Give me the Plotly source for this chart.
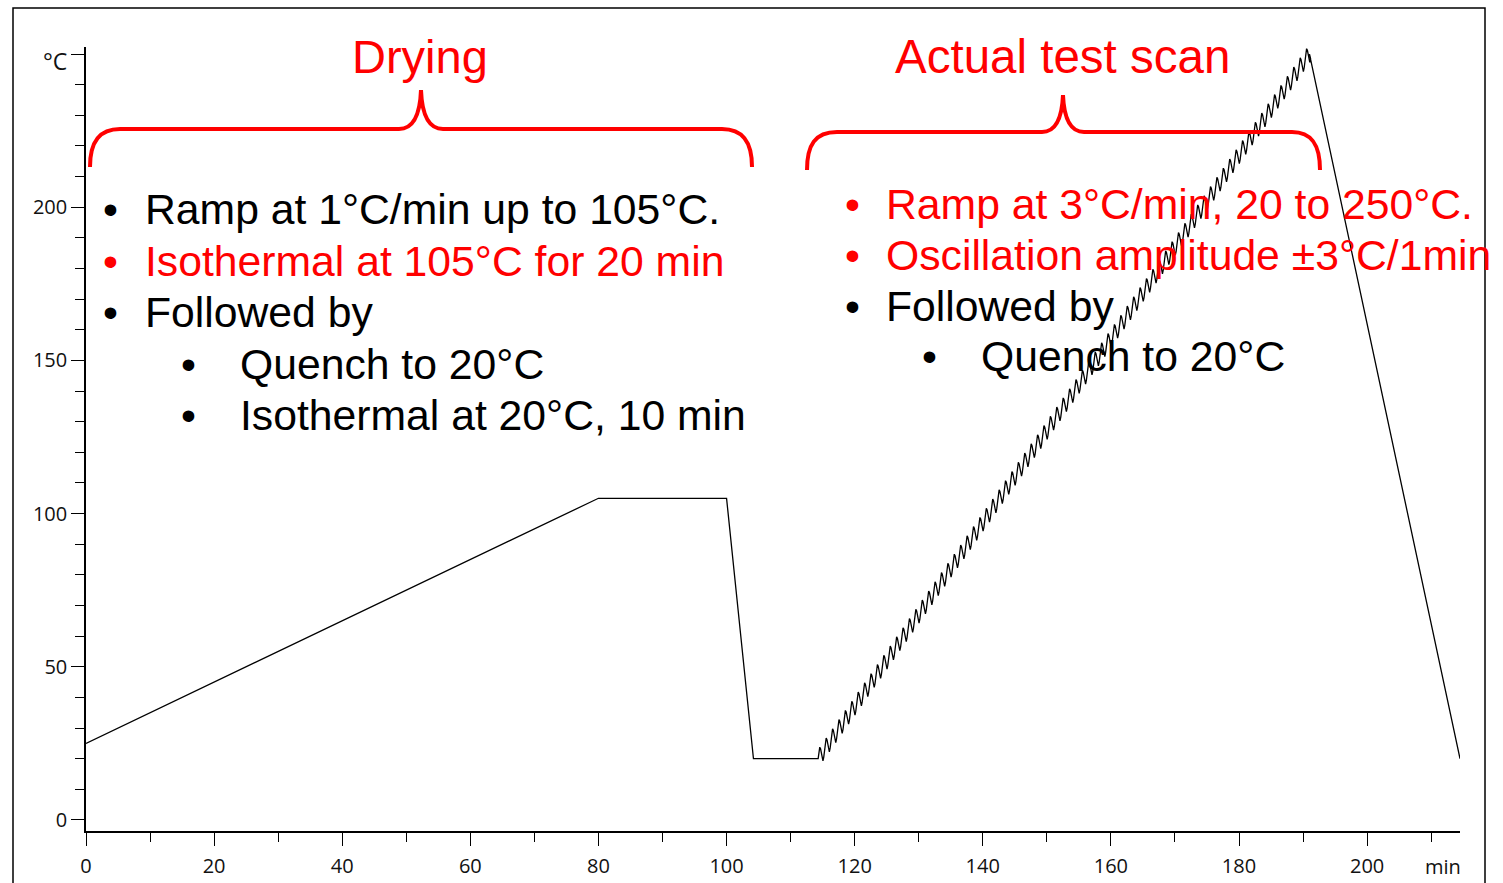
import plotly.graph_objects as go

# ---------------- data ----------------
# temperature programme before the modulated scan (min, degC)
prog_time = [0, 80, 100, 104.2, 114.3]
prog_temp = [25, 105, 105, 20, 20]

# modulated heating scan (values stated on the chart: 3 C/min, 20 -> 250 C, +/-3 C / 1 min)
scan_start_time = 114.3
scan_start_temp = 20
scan_end_temp = 250
scan_rate = 3.0          # degC / min
mod_period = 1.0         # min
cycle_offsets = [0.0, 2.1, 3.0, 2.1, 0.0, -2.1, -3.0, -2.1]   # one oscillation cycle (degC)

# final quench
quench_time = [191.0, 214.5]
quench_temp = [250, 20]

x_ticks = [0, 20, 40, 60, 80, 100, 120, 140, 160, 180, 200]
y_ticks = [0, 50, 100, 150, 200, 250]
y_ticktext = ["0", "50", "100", "150", "200", " "]

# ---------------- build the trace ----------------
xs = list(prog_time)
ys = list(prog_temp)
n_cycles = int(round((scan_end_temp - scan_start_temp) / scan_rate / mod_period))
n = len(cycle_offsets)
for k in range(n_cycles):
    for j in range(n):
        t = scan_start_time + (k + j / n) * mod_period
        xs.append(t)
        ys.append(scan_start_temp + scan_rate * (t - scan_start_time) + cycle_offsets[j])
xs += quench_time
ys += quench_temp

fig = go.Figure()
fig.add_trace(go.Scatter(x=xs, y=ys, mode="lines",
                         line=dict(color="black", width=1.3),
                         hoverinfo="skip", showlegend=False))

W, H = 1503, 883
ML, MR, MT, MB = 86, 43, 47, 52
PW, PH = W - ML - MR, H - MT - MB


def px(p):
    return (p - ML) / PW


def py(p):
    return (H - MB - p) / PH


def path(points_cmds):
    out = []
    for cmd, pts in points_cmds:
        coords = " ".join(f"{px(a):.5f},{py(b):.5f}" for a, b in pts)
        out.append(f"{cmd} {coords}")
    return " ".join(out)


red = "#FF0000"
left_brace = path([
    ("M", [(90, 167)]),
    ("C", [(90, 141), (100, 129), (120, 129)]),
    ("L", [(399, 129)]),
    ("C", [(413, 129), (420, 116), (421, 90)]),
    ("C", [(422, 116), (429, 129), (443, 129)]),
    ("L", [(722, 129)]),
    ("C", [(742, 129), (752, 141), (752, 167)]),
])
right_brace = path([
    ("M", [(807, 170)]),
    ("C", [(807, 145), (815, 132), (837, 132)]),
    ("L", [(1042, 132)]),
    ("C", [(1056, 132), (1062, 119), (1063, 95)]),
    ("C", [(1064, 119), (1070, 132), (1084, 132)]),
    ("L", [(1292, 132)]),
    ("C", [(1312, 132), (1320, 145), (1320, 170)]),
])

shapes = [
    dict(type="path", xref="paper", yref="paper", path=left_brace,
         line=dict(color=red, width=4)),
    dict(type="path", xref="paper", yref="paper", path=right_brace,
         line=dict(color=red, width=4)),
    dict(type="rect", xref="paper", yref="paper",
         x0=px(13), x1=px(1485), y0=py(900), y1=py(8),
         line=dict(color="black", width=1.5), fillcolor="rgba(0,0,0,0)"),
]

FONT = "Liberation Sans, Arial, sans-serif"
annotations = []


def txt(text, x, y, size=42.7, color="black", anchor="left"):
    annotations.append(dict(text=text, x=px(x), y=py(y), xref="paper", yref="paper",
                            xanchor=anchor, yanchor="middle", showarrow=False,
                            font=dict(family=FONT, size=size, color=color)))


txt("Drying", 420, 57, size=47, color=red, anchor="center")
txt("Actual test scan", 1062, 57, size=47.5, color=red, anchor="center")

left_lines = [
    (110, 143, 209.5, "Ramp at 1°C/min up to 105°C.", "black"),
    (110, 143, 260.5, "Isothermal at 105°C for 20 min", red),
    (110, 143, 311.5, "Followed by", "black"),
    (188, 238, 363.5, "Quench to 20°C", "black"),
    (188, 238, 414.5, "Isothermal at 20°C, 10 min", "black"),
]
right_lines = [
    (852, 884, 203.5, "Ramp at 3°C/min, 20 to 250°C.", red),
    (852, 884, 254.5, "Oscillation amplitude ±3°C/1min", red),
    (852, 884, 305.5, "Followed by", "black"),
    (929, 979, 356.5, "Quench to 20°C", "black"),
]
for bx, tx, y, s, c in left_lines + right_lines:
    txt("•", bx, y, size=42.7, color=c, anchor="center")
    txt(s, tx, y, size=42.7, color=c)

tickfont = dict(family="Open Sans, sans-serif", size=20, color="#111")

# unit labels
annotations.append(dict(text="min", x=211.8, y=py(866), xref="x", yref="paper",
                        xanchor="center", yanchor="middle", showarrow=False,
                        font=tickfont))
annotations.append(dict(text="°C", x=px(69), y=py(61), xref="paper", yref="paper",
                        xanchor="right", yanchor="middle", showarrow=False,
                        font=dict(family="Open Sans, sans-serif", size=23, color="#111")))

fig.update_layout(
    width=W, height=H,
    margin=dict(l=ML, r=MR, t=MT, b=MB, autoexpand=False),
    paper_bgcolor="white", plot_bgcolor="white",
    showlegend=False,
    shapes=shapes, annotations=annotations,
    xaxis=dict(range=[0, 214.5], tickvals=x_ticks, ticks="outside", ticklen=13,
               tickwidth=1.3, tickcolor="black", showline=True, linecolor="black",
               linewidth=1.5, showgrid=False, zeroline=False, tickfont=tickfont,
               automargin=False, ticklabelstandoff=3,
               minor=dict(dtick=10, tick0=0, ticks="outside", ticklen=9,
                          tickwidth=1.3, tickcolor="black", showgrid=False)),
    yaxis=dict(range=[-3.6, 252.3], tickvals=y_ticks, ticktext=y_ticktext,
               ticks="outside", ticklen=13, tickwidth=1.3, tickcolor="black",
               showline=True, linecolor="black", linewidth=1.5, showgrid=False,
               zeroline=False, tickfont=tickfont, automargin=False,
               minor=dict(dtick=10, tick0=0, ticks="outside", ticklen=9,
                          tickwidth=1.3, tickcolor="black", showgrid=False)),
)

fig.write_html("out.html")
